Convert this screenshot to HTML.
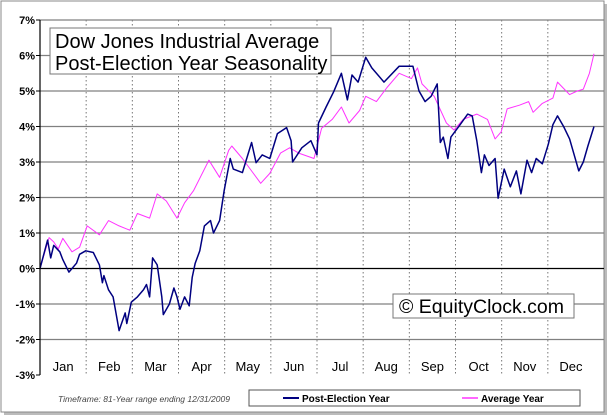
<!DOCTYPE html>
<html><head><meta charset="utf-8"><style>
body{margin:0;background:#fff;}
svg{display:block;font-family:"Liberation Sans",Verdana,sans-serif;}
</style></head><body>
<svg id="chart" width="609" height="418" viewBox="0 0 609 418">
<rect x="4" y="4" width="603" height="411" fill="#bbb"/>
<rect x="1" y="1" width="603" height="411" fill="#fff" stroke="#888"/>
<g id="grid"></g>
<g id="series"></g>
<g id="axes"></g>
<rect x="50" y="28" width="281" height="46" fill="#fff" stroke="#777"/>
<text x="55" y="48" font-size="20" fill="#000">Dow Jones Industrial Average</text>
<text x="55" y="70" font-size="20" fill="#000">Post-Election Year Seasonality</text>
<rect x="393" y="294" width="181" height="24" fill="#fff" stroke="#777"/>
<text x="399" y="313" font-size="19.5" fill="#000">© EquityClock.com</text>
<text x="58" y="402" font-size="8.5" font-style="italic" fill="#444">Timeframe: 81-Year range ending 12/31/2009</text>
<rect x="249" y="390" width="331" height="16" fill="#fff" stroke="#555"/>
<line x1="283" y1="398" x2="299" y2="398" stroke="#000080" stroke-width="2"/>
<text x="302" y="402" font-size="10" font-weight="bold">Post-Election Year</text>
<line x1="462" y1="398" x2="478" y2="398" stroke="#ff33ff" stroke-width="1.5"/>
<text x="481" y="402" font-size="10" font-weight="bold">Average Year</text>
</svg>
<script>
const months=["Jan","Feb","Mar","Apr","May","Jun","Jul","Aug","Sep","Oct","Nov","Dec"];
const yTicks=[-3,-2,-1,0,1,2,3,4,5,6,7];
const postDays=[1,6,8,10,14,16,20,22,25,27,31,36,40,42,43,46,49,53,57,58,61,65,69,71,73,75,78,81,82,86,89,91,93,96,99,101,103,106,109,113,115,119,122,126,128,134,140,143,147,152,157,163,166,167,173,179,183,184,189,194,199,203,206,210,215,219,227,237,246,250,254,258,262,264,266,269,271,277,282,285,288,291,293,296,300,302,306,310,314,317,321,324,327,331,335,338,341,345,349,355,358,361,365];
const postVals=[0,0.8,0.3,0.65,0.47,0.25,-0.1,0,0.15,0.4,0.5,0.45,0.1,-0.4,-0.2,-0.6,-0.8,-1.75,-1.25,-1.55,-0.95,-0.8,-0.6,-0.45,-0.8,0.3,0.1,-0.8,-1.3,-1.0,-0.55,-0.8,-1.15,-0.8,-1.05,-0.25,0.15,0.5,1.2,1.35,1.0,1.35,2.2,3.1,2.8,2.7,3.55,2.98,3.2,3.1,3.8,3.97,3.6,3.0,3.4,3.6,3.2,4.1,4.55,4.98,5.5,4.75,5.45,5.25,5.95,5.65,5.25,5.7,5.7,5.0,4.7,4.85,5.2,3.55,3.7,3.1,3.7,4.05,4.35,4.3,3.6,2.7,3.2,2.9,3.1,1.98,2.8,2.3,2.75,2.1,3.05,2.7,3.1,2.95,3.5,4.05,4.3,4.0,3.65,2.75,3.0,3.45,4.0];
const avgDays=[1,7,10,13,16,22,27,32,40,46,53,60,65,73,78,84,91,96,102,112,119,125,127,134,146,152,159,165,171,181,186,193,199,204,211,215,222,229,237,245,249,252,260,268,273,279,288,295,300,304,308,316,322,325,331,338,341,349,354,358,362,365];
const avgVals=[0,0.87,0.75,0.55,0.85,0.47,0.6,1.2,0.95,1.35,1.2,1.08,1.55,1.42,2.1,1.9,1.42,1.85,2.2,3.05,2.57,3.33,3.45,3.1,2.4,2.68,3.25,3.4,3.25,3.1,3.95,4.2,4.55,4.1,4.45,4.85,4.7,5.1,5.5,5.35,5.65,5.2,4.85,4.1,3.9,4.2,4.35,4.2,3.65,3.85,4.5,4.6,4.7,4.4,4.65,4.8,5.25,4.9,5.0,5.05,5.5,6.05];
const X0=40,X1=594,Y7=20,YM3=375;
const xs=d=>X0+(d-1)/364*(X1-X0);
const ys=v=>YM3-(v+3)/10*(YM3-Y7);
const NS="http://www.w3.org/2000/svg";
function mk(tag,attrs,parent){const e=document.createElementNS(NS,tag);for(const k in attrs)e.setAttribute(k,attrs[k]);parent.appendChild(e);return e;}
const grid=document.getElementById('grid'),axes=document.getElementById('axes'),series=document.getElementById('series');
const mw=(X1-X0)/12;
for(let i=1;i<12;i++){const l=mk('line',{x1:X0+i*mw,x2:X0+i*mw,y1:Y7,y2:YM3,stroke:'#777','stroke-dasharray':'1.5,2.5'},grid);

}
yTicks.forEach(t=>{const y=ys(t);
if(t>-3){const l=mk('line',{x1:X0,x2:X1+10,y1:y,y2:y,stroke:t===0?'#000':'#808080','stroke-width':t===0?1.3:1.2},grid);

}
const tk=mk('line',{x1:X0-4,x2:X0,y1:y,y2:y,stroke:'#000'},axes);


const tx=mk('text',{x:X0-5,y:y+4,'text-anchor':'end','font-size':11,'font-weight':'bold'},axes);
tx.textContent=t+'%';

});
const ax=mk('line',{x1:X0,x2:X0,y1:Y7,y2:YM3,stroke:'#000','stroke-width':1.2},axes);


months.forEach((m,i)=>{const t=mk('text',{x:X0+(i+0.5)*mw,y:371,'text-anchor':'middle','font-size':13},axes);
t.textContent=m;

});
function line(days,vals,color,w,name){const p=mk('polyline',{points:days.map((d,i)=>xs(d).toFixed(1)+','+ys(vals[i]).toFixed(1)).join(' '),fill:'none',stroke:color,'stroke-width':w,'stroke-linejoin':'round'},series);

}
line(avgDays,avgVals,'#ff33ff',1,'average-year-line');
line(postDays,postVals,'#000080',1.5,'post-election-year-line');
</script>
</body></html>
